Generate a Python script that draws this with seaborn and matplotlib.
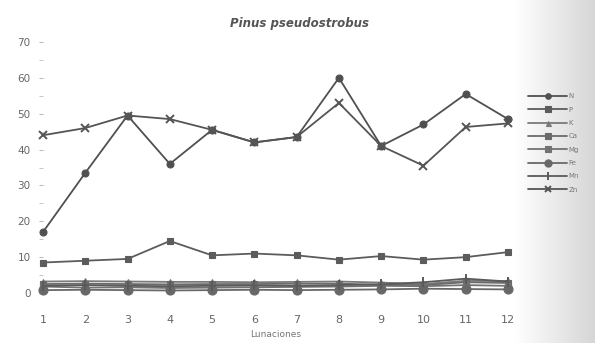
import numpy as np
import pandas as pd
import matplotlib
matplotlib.use("Agg")
import matplotlib.pyplot as plt
import seaborn as sns
from matplotlib.ticker import MultipleLocator

sns.set_style("white")
plt.rcParams["font.family"] = ["DejaVu Sans"]

months = list(range(1, 13))
series_names = ["N", "P", "K", "Ca", "Mg", "Fe", "Mn", "Zn"]
s1 = [17, 33.5, 49.5, 36, 45.5, 42, 43.5, 60, 41, 47, 55.5, 48.5]
s2 = [8.5, 9, 9.5, 14.5, 10.5, 11, 10.5, 9.3, 10.3, 9.3, 10, 11.4]
s3 = [3.2, 3.3, 3.2, 3.1, 3.1, 3.0, 3.1, 3.2, 2.9, 2.5, 3.4, 3.3]
s4 = [2.5, 2.6, 2.5, 2.4, 2.5, 2.5, 2.6, 2.6, 2.3, 2.2, 3.0, 2.8]
s5 = [1.8, 1.5, 1.6, 1.4, 1.5, 1.6, 1.7, 1.8, 2.0, 1.9, 2.2, 2.0]
s6 = [0.8, 0.9, 0.8, 0.7, 0.8, 0.9, 0.8, 0.9, 1.0, 1.2, 1.1, 1.0]
s7 = [2.0, 2.2, 2.0, 1.9, 2.0, 2.1, 2.0, 2.2, 2.4, 3.0, 4.0, 3.2]
s8 = [44, 46, 49.5, 48.5, 45.5, 42, 43.5, 53, 41, 35.5, 46.3, 47.3]
all_series = [s1, s2, s3, s4, s5, s6, s7, s8]

markers = ["o", "s", "^", "s", "s", "o", "|", "x"]
msizes = [5, 5, 4.5, 5, 5, 6.5, 7, 6]
colors = ["#505050", "#5c5c5c", "#7a7a7a", "#6a6a6a", "#727272", "#686868", "#5a5a5a", "#555555"]

df = pd.DataFrame({
    "mes": months * len(all_series),
    "valor": [v for s in all_series for v in s],
    "serie": [n for n in series_names for _ in months],
})

fig = plt.figure(figsize=(5.95, 3.43), dpi=100)

# grey shading along the right edge
bg = fig.add_axes([515 / 595, 0, 80 / 595, 1], zorder=-5)
grad = np.linspace(0, 1, 100)[None, :]
bg.imshow(grad, aspect="auto", cmap=matplotlib.colors.LinearSegmentedColormap.from_list(
    "g", ["#ffffff", "#d6d6d6"]), extent=[0, 1, 0, 1])
bg.axis("off")

ax = fig.add_axes([43 / 595, 1 - 293 / 343, (508 - 43) / 595, (293 - 42) / 343])
ax.set_facecolor("none")

for name, m, ms, c in zip(series_names, markers, msizes, colors):
    sub = df[df["serie"] == name]
    sns.lineplot(data=sub, x="mes", y="valor", ax=ax, color=c, linewidth=1.3,
                 marker=m, markersize=ms, markeredgewidth=1.4 if m in "|x" else 0.8,
                 markeredgecolor=c, label=name, clip_on=False)

ax.set_xlim(1, 12)
ax.set_ylim(0, 70)
ax.set_xticks(months)
ax.set_xticklabels([str(m) for m in months])
ax.yaxis.set_major_locator(MultipleLocator(10))
ax.yaxis.set_minor_locator(MultipleLocator(5))
for sp in ax.spines.values():
    sp.set_visible(False)
ax.tick_params(axis="y", which="both", left=True, direction="out", length=3,
               color="#bbbbbb", labelsize=7.5, labelcolor="#666666", pad=6)
ax.tick_params(axis="x", bottom=False, labelsize=8, labelcolor="#666666", pad=12)
ax.set_xlabel("Lunaciones", fontsize=6.5, color="#777777", labelpad=4)
ax.set_ylabel("")

fig.text(300 / 595, 1 - 23 / 343, "Pinus pseudostrobus", ha="center", va="center",
         fontsize=8.5, fontstyle="italic", fontweight="bold", color="#555555")

handles, labels = ax.get_legend_handles_labels()
ax.legend_.remove()
fig.legend(handles, labels, loc="upper left", bbox_to_anchor=(525 / 595, 1 - 90 / 343),
           frameon=False, fontsize=5, labelcolor="#777777", handlelength=5.5,
           handletextpad=0.3, labelspacing=1.05, borderpad=0, markerscale=0.8)

fig.savefig("out.png", dpi=100)
